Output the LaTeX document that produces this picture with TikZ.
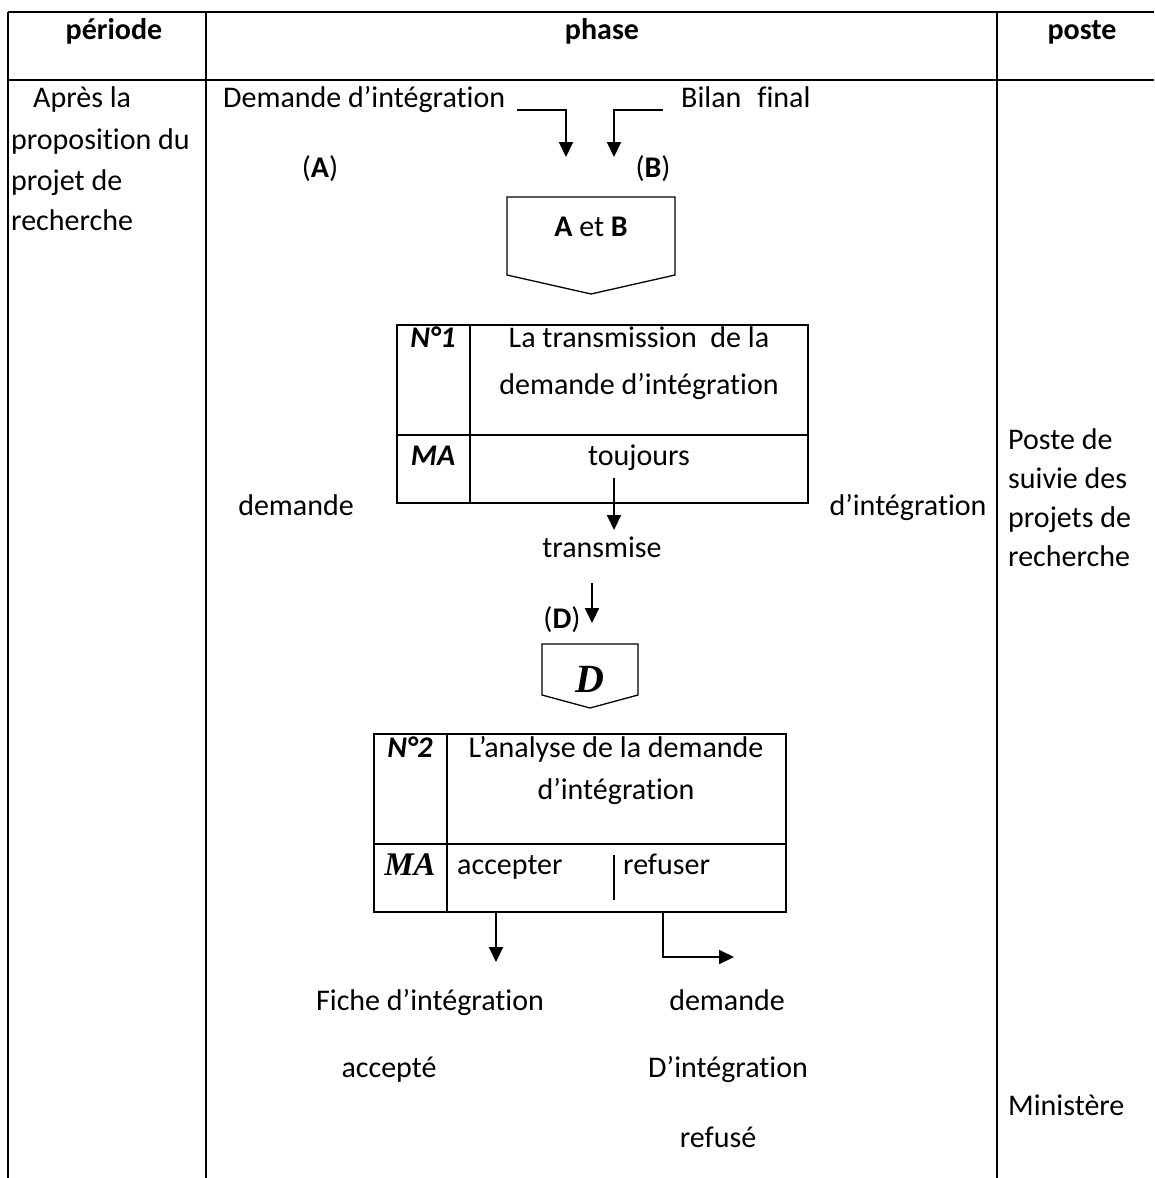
\documentclass[tikz,border=0pt]{standalone}
\usepackage{fontspec}
\setmainfont{Carlito}[Ligatures={NoCommon},RawFeature={-liga;-calt;-dlig}]
\newfontfamily\timesbi{Liberation Serif}[BoldItalicFont=* Bold Italic]
\usetikzlibrary{arrows.meta}
\begin{document}
\begin{tikzpicture}[x=1pt,y=-1pt,
  rule/.style={line width=2pt},
  cell/.style={line width=2pt},
  thin/.style={line width=1.3pt},
  flow/.style={line width=2pt,-{Triangle[length=15pt,width=14pt]}},
  lbl/.style={inner sep=0pt,font=\fontsize{30}{36}\selectfont,text height=20pt,text depth=6pt},
  head/.style={lbl,font=\fontsize{30}{36}\selectfont\bfseries}]
\useasboundingbox (0,0) rectangle (1154,1178);

% table frame
\draw[rule] (8,12) -- (1154,12);
\draw[rule] (8,80) -- (1154,80);
\draw[rule] (8,12) -- (8,1178);
\draw[rule] (206,12) -- (206,1178);
\draw[rule] (997,12) -- (997,1178);

% column headings
\node[head] (hper) at (114,32) {période};
\node[head] (hpha) at (602,32) {phase};
\node[head] (hpos) at (1082,32) {poste};

% period column
\node[lbl,anchor=west] (p1) at (33,100) {Après la};
\node[lbl,anchor=west] (p2) at (11,142) {proposition du};
\node[lbl,anchor=west] (p3) at (11,183) {projet de};
\node[lbl,anchor=west] (p4) at (11,223) {recherche};

% post column
\node[lbl,anchor=west] (s1) at (1008,442) {Poste de};
\node[lbl,anchor=west] (s2) at (1008,481) {suivie des};
\node[lbl,anchor=west] (s3) at (1008,520) {projets de};
\node[lbl,anchor=west] (s4) at (1008,559) {recherche};
\node[lbl,anchor=west] (s5) at (1008,1108) {Ministère};

% inputs A and B
\node[lbl,anchor=west] (inA) at (223,100) {Demande d’intégration};
\node[lbl,anchor=west] (inB) at (681,100) {Bilan\hspace{16pt}final};
\node[lbl] (tagA) at (320,170) {(\textbf{A})};
\node[lbl] (tagB) at (653,170) {(\textbf{B})};
\coordinate (aS) at (517,110);
\coordinate (aE) at (566,157);
\coordinate (bS) at (663,110);
\coordinate (bE) at (614,157);
\draw[flow] (aS) -| (aE);
\draw[flow] (bS) -| (bE);

% off-page connector A et B
\draw[thin] (507,197) -- (675,197) -- (675,275) -- (591,294) -- (507,275) -- cycle;
\node[lbl] (ab) at (591,229) {\textbf{A} et \textbf{B}};

% operation 1
\draw[cell] (397,325) rectangle (808,503);
\draw[cell] (397,435) -- (808,435);
\draw[cell] (470,325) -- (470,503);
\node[lbl,font=\fontsize{30}{36}\selectfont\bfseries\itshape] (n1) at (433,340) {N°1};
\node[lbl] (t1a) at (639,340) {La transmission\ \ de la};
\node[lbl] (t1b) at (639,387) {demande d’intégration};
\node[lbl,font=\fontsize{30}{36}\selectfont\bfseries\itshape] (ma1) at (433,458) {MA};
\node[lbl] (tj) at (639,458) {toujours};

\node[lbl] (dl) at (296,508) {demande};
\node[lbl] (dr) at (908,508) {d’intégration};
\node[lbl] (tr) at (602,550) {transmise};
\coordinate (c1S) at (614,478);
\coordinate (c1E) at (614,530);
\draw[flow] (c1S) -- (c1E);
\coordinate (c2S) at (592,583);
\coordinate (c2E) at (592,623);
\draw[flow] (c2S) -- (c2E);
\node[lbl] (tagD) at (562,621) {(\textbf{D})};

% off-page connector D
\draw[thin] (542,644) -- (638,644) -- (638,695) -- (590,708) -- (542,695) -- cycle;
\node[inner sep=0pt,anchor=base,font=\fontsize{40}{44}\timesbi\bfseries\itshape] (dd) at (590,692) {D};

% operation 2
\draw[cell] (374,734) rectangle (786,912);
\draw[cell] (374,844) -- (786,844);
\draw[cell] (447,734) -- (447,912);
\node[lbl,font=\fontsize{30}{36}\selectfont\bfseries\itshape] (n2) at (410,750) {N°2};
\node[lbl] (t2a) at (616,750) {L’analyse de la demande};
\node[lbl] (t2b) at (616,792) {d’intégration};
\node[lbl,font=\fontsize{33}{36}\timesbi\bfseries\itshape] (ma2) at (410,868) {MA};
\node[lbl,anchor=west] (acc) at (457,867) {accepter};
\node[lbl,anchor=west] (ref) at (623,867) {refuser};
\coordinate (sepT) at (614,855);
\coordinate (sepB) at (614,900);
\draw[thin] (sepT) -- (sepB);

% outcomes
\coordinate (okS) at (496,912);
\coordinate (okE) at (496,962);
\draw[flow] (okS) -- (okE);
\coordinate (noS) at (663,912);
\coordinate (noE) at (734,957);
\draw[flow] (noS) |- (noE);

\node[lbl] (f1) at (430,1003) {Fiche d’intégration};
\node[lbl] (f2) at (389,1070) {accepté};
\node[lbl] (r1) at (727,1003) {demande};
\node[lbl] (r2) at (728,1070) {D’intégration};
\node[lbl] (r3) at (718,1140) {refusé};
\end{tikzpicture}
\end{document}
